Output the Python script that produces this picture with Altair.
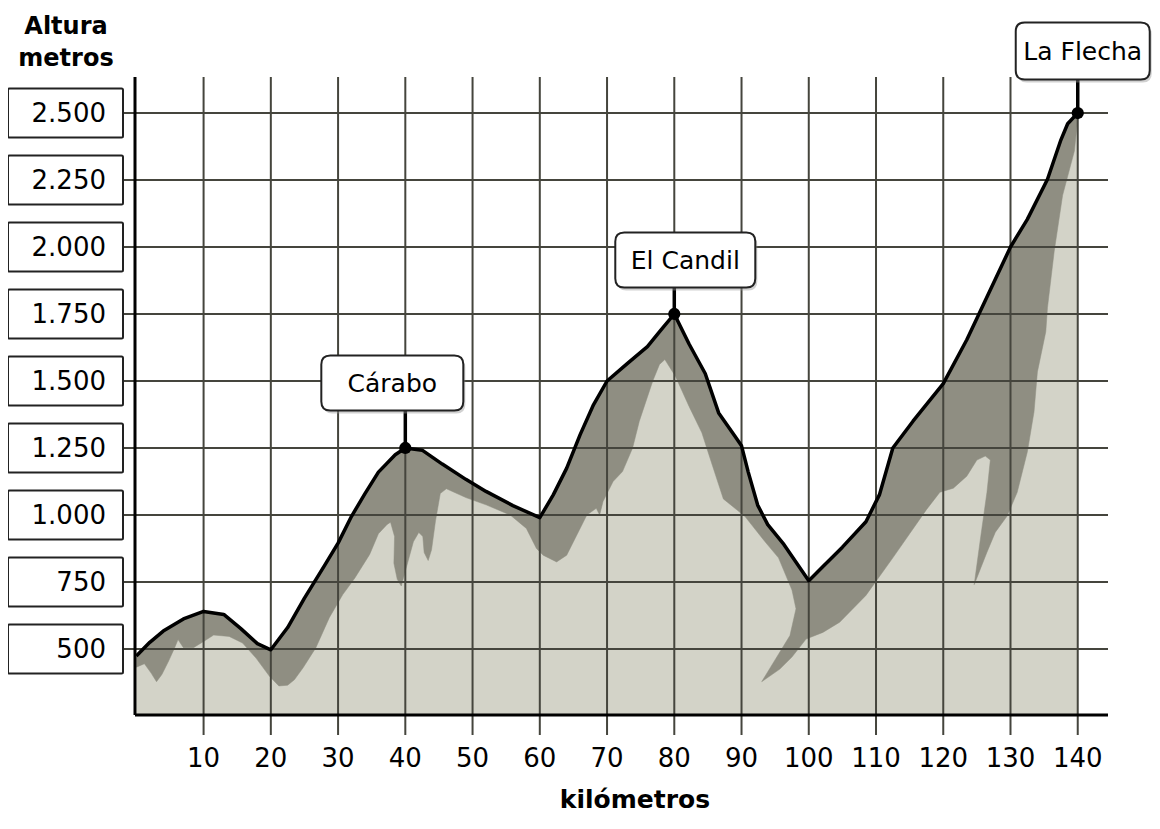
import altair as alt
import pandas as pd

# ---------------- data ----------------
profile_km = [0, 2, 4, 7, 10, 13, 15.5, 18, 20, 22.5, 25, 28, 30, 32, 34, 36, 38.5, 40,
              42.5, 45.5, 49, 52, 56, 60, 62, 64, 66, 68, 70, 73, 76, 78, 80,
              82.2, 84.6, 86.6, 89, 90, 91, 92.4, 93.9, 96.3, 100, 102, 105, 108.5,
              110.5, 112.5, 115.5, 120, 123.5, 125.5, 130, 132.5, 135.5, 137.5, 138.5, 140]
profile_m = [474, 525, 567, 612, 640, 629, 577, 520, 497, 580, 690, 812, 895, 995, 1080, 1160, 1225, 1250,
             1242, 1190, 1133, 1088, 1035, 990, 1075, 1175, 1300, 1412, 1500, 1565, 1628, 1690, 1750,
             1638, 1528, 1381, 1295, 1258, 1160, 1037, 964, 890, 755, 805, 880, 975,
             1075, 1250, 1350, 1490, 1654, 1760, 2000, 2103, 2253, 2400, 2460, 2500]

# lower edge of the dark shadow band (traced left to right)
shadow_km = [0, 1.2, 2.2, 3.0, 3.8, 4.8, 5.7, 6.2, 7.0, 8.5, 10.0, 11.5, 13.8, 15.8, 17.8, 19.8,
             21.2, 22.5, 23.5, 24.8, 26.7, 28.7, 30.7, 32.5, 34.7, 36.0, 37.3, 37.8, 38.4, 38.3,
             38.8, 39.4, 40.0, 41.2, 42.0, 42.6, 42.8, 43.4, 43.9, 44.5, 45.2, 46.1, 49.0, 52.1,
             55.6, 58.0, 59.5, 60.5, 62.5, 64.0, 67.0, 68.4, 68.9, 69.4, 70.9, 72.3, 73.8, 74.8,
             76.8, 77.8, 78.6, 80.2, 82.2, 84.1, 85.6, 87.3, 90.5, 93.5, 95.5, 97.5, 98.1, 97.2,
             95.0, 93.0, 95.7, 97.5, 99.6, 102.1, 104.6, 108.5, 112.5, 115.0, 117.5, 119.5, 121.5,
             123.5, 125.0, 126.25, 127.0, 126.5, 125.5, 124.6, 126.5, 127.75, 129.5, 131.0, 132.5,
             133.5, 134.0, 135.25, 135.5, 136.5, 137.75, 139.5, 140]
shadow_m = [432, 445, 410, 378, 405, 455, 505, 535, 505, 505, 528, 552, 547, 522, 466, 398,
            362, 365, 385, 430, 505, 617, 703, 765, 853, 930, 965, 973, 920, 820,
            760, 735, 790, 900, 935, 920, 860, 830, 870, 980, 1080, 1098, 1065, 1037,
            1000, 950, 875, 850, 825, 850, 1000, 1025, 1000, 1050, 1125, 1162, 1250, 1350,
            1500, 1562, 1580, 1516, 1405, 1307, 1190, 1060, 995, 900, 840, 720, 650, 550,
            460, 378, 425, 470, 537, 562, 600, 700, 840, 930, 1020, 1085, 1100,
            1145, 1205, 1220, 1205, 1085, 906, 740, 861, 936, 996, 1085, 1235,
            1385, 1534, 1684, 1774, 1984, 2193, 2358, 2478]

y_ticks = [500, 750, 1000, 1250, 1500, 1750, 2000, 2250, 2500]
y_labels = ["500", "750", "1.000", "1.250", "1.500", "1.750", "2.000", "2.250", "2.500"]
x_ticks = [10, 20, 30, 40, 50, 60, 70, 80, 90, 100, 110, 120, 130, 140]
x_labels = [str(v) for v in x_ticks]

peak_names = ["Cárabo", "El Candil", "La Flecha"]
peak_km = [40, 80, 140]
peak_m = [1250, 1750, 2500]

# ---------------- layout / style ----------------
W, H = 973, 640
XMIN, XMAX = -0.2, 144.5
YMIN, YMAX = 253.7, 2641.8
FONT = "DejaVu Sans"
LIGHT = "#d3d3c8"
DARK = "#8f8e82"
GRID = "#45453d"

# label boxes of the peaks: (dx, dy, width, height, stem length) in px
peak_box = [(-13, -65, 142, 55, 38), (11, -54, 140, 55, 27), (5, -62, 134, 57, 33)]

xs = alt.Scale(domain=[XMIN, XMAX], nice=False, zero=False)
ys = alt.Scale(domain=[YMIN, YMAX], nice=False, zero=False)


def rrect(w, h, r):
    """rounded rectangle path for a point mark of size 10000 (1 unit = 50 px)"""
    hw, hh, rr = w / 100.0, h / 100.0, r / 50.0
    return (f"M{-hw+rr},{-hh} L{hw-rr},{-hh} Q{hw},{-hh} {hw},{-hh+rr} "
            f"L{hw},{hh-rr} Q{hw},{hh} {hw-rr},{hh} L{-hw+rr},{hh} "
            f"Q{-hw},{hh} {-hw},{hh-rr} L{-hw},{-hh+rr} Q{-hw},{-hh} {-hw+rr},{-hh} Z")


prof = pd.DataFrame({"km": profile_km, "m": profile_m})
pts = list(zip(shadow_km, shadow_m)) + list(reversed(list(zip(profile_km, profile_m))))
shadow = pd.DataFrame({"km": [p[0] for p in pts], "m": [p[1] for p in pts], "i": list(range(len(pts)))})
yt = pd.DataFrame({"v": y_ticks, "lab": y_labels})
xt = pd.DataFrame({"v": x_ticks, "lab": x_labels})
peaks = pd.DataFrame({"name": peak_names, "km": peak_km, "m": peak_m})
one = pd.DataFrame({"a": [0]})

layers = []

# light mountain body
layers.append(alt.Chart(prof).mark_area(color=LIGHT, opacity=1).encode(
    x=alt.X("km:Q", scale=xs, axis=None),
    y=alt.Y("m:Q", scale=ys, axis=None),
    y2=alt.datum(YMIN)))

# dark shadow band (filled polygon)
layers.append(alt.Chart(shadow).mark_line(fill=DARK, stroke=DARK, strokeWidth=0.5, opacity=1).encode(
    x=alt.X("km:Q", scale=xs, axis=None),
    y=alt.Y("m:Q", scale=ys, axis=None),
    order="i:Q"))

# horizontal grid
layers.append(alt.Chart(yt).mark_rule(color=GRID, strokeWidth=2).encode(
    y=alt.Y("v:Q", scale=ys, axis=None), x=alt.value(-12), x2=alt.value(W)))
# vertical grid (extends below the axis as ticks)
layers.append(alt.Chart(xt).mark_rule(color=GRID, strokeWidth=2).encode(
    x=alt.X("v:Q", scale=xs, axis=None), y=alt.value(2), y2=alt.value(660)))

# axes lines
layers.append(alt.Chart(one).mark_rule(color="black", strokeWidth=3).encode(
    x=alt.value(0), y=alt.value(2), y2=alt.value(H)))
layers.append(alt.Chart(one).mark_rule(color="black", strokeWidth=3).encode(
    x=alt.value(0), x2=alt.value(W), y=alt.value(H)))

# profile line
layers.append(alt.Chart(prof).mark_line(color="black", strokeWidth=3.5, strokeJoin="round").encode(
    x=alt.X("km:Q", scale=xs, axis=None), y=alt.Y("m:Q", scale=ys, axis=None)))

# peak annotations
for k, (dx, dy, bw, bh, st) in enumerate(peak_box):
    d = peaks.iloc[[k]]
    base = alt.Chart(d)
    enc = dict(x=alt.X("km:Q", scale=xs, axis=None), y=alt.Y("m:Q", scale=ys, axis=None))
    layers.append(base.mark_rule(color="black", strokeWidth=3.5, y2Offset=-st).encode(
        y2="m:Q", **enc))
    layers.append(base.mark_point(shape=rrect(bw, bh, 9), size=10000, filled=True, fill="#9a9a9a",
                                  stroke=None, opacity=0.45, xOffset=dx + 2, yOffset=dy + 3).encode(**enc))
    layers.append(base.mark_point(shape=rrect(bw, bh, 9), size=10000, filled=True, fill="white",
                                  stroke="#222222", strokeWidth=2, opacity=1,
                                  xOffset=dx, yOffset=dy).encode(**enc))
    layers.append(base.mark_text(font=FONT, fontSize=25, color="black", align="center",
                                 baseline="middle", xOffset=dx, yOffset=dy + 1).encode(
        text="name:N", **enc))

layers.append(alt.Chart(peaks).mark_point(filled=True, color="black", size=150, opacity=1).encode(
    x=alt.X("km:Q", scale=xs, axis=None), y=alt.Y("m:Q", scale=ys, axis=None)))

# y-axis label boxes
layers.append(alt.Chart(yt).mark_point(shape=rrect(115, 49, 1.5), size=10000, filled=True, fill="white",
                                       stroke="#222222", strokeWidth=2, opacity=1).encode(
    y=alt.Y("v:Q", scale=ys, axis=None), x=alt.value(-69.5)))
layers.append(alt.Chart(yt).mark_text(font=FONT, fontSize=26, color="black", align="right",
                                      baseline="middle", dy=1).encode(
    y=alt.Y("v:Q", scale=ys, axis=None), x=alt.value(-29), text="lab:N"))

# x tick labels
layers.append(alt.Chart(xt).mark_text(font=FONT, fontSize=26, color="black", align="center",
                                      baseline="middle").encode(
    x=alt.X("v:Q", scale=xs, axis=None), y=alt.value(684), text="lab:N"))

# titles
layers.append(alt.Chart(one).mark_text(text="Altura", font=FONT, fontSize=24, fontWeight="bold",
                                       align="center", baseline="alphabetic", color="black").encode(
    x=alt.value(-69), y=alt.value(-41)))
layers.append(alt.Chart(one).mark_text(text="metros", font=FONT, fontSize=24, fontWeight="bold",
                                       align="center", baseline="alphabetic", color="black").encode(
    x=alt.value(-69), y=alt.value(-9)))
layers.append(alt.Chart(one).mark_text(text="kilómetros", font=FONT, fontSize=25, fontWeight="bold",
                                       align="center", baseline="alphabetic", color="black").encode(
    x=alt.value(500), y=alt.value(733)))

chart = alt.layer(*layers).properties(
    width=W, height=H,
    autosize=alt.AutoSizeParams(type="none"),
    padding={"left": 127, "top": 67, "right": 44, "bottom": 102},
    background="white",
).configure_view(stroke=None)

chart.save("out.html", embed_options={"renderer": "svg", "actions": False})
